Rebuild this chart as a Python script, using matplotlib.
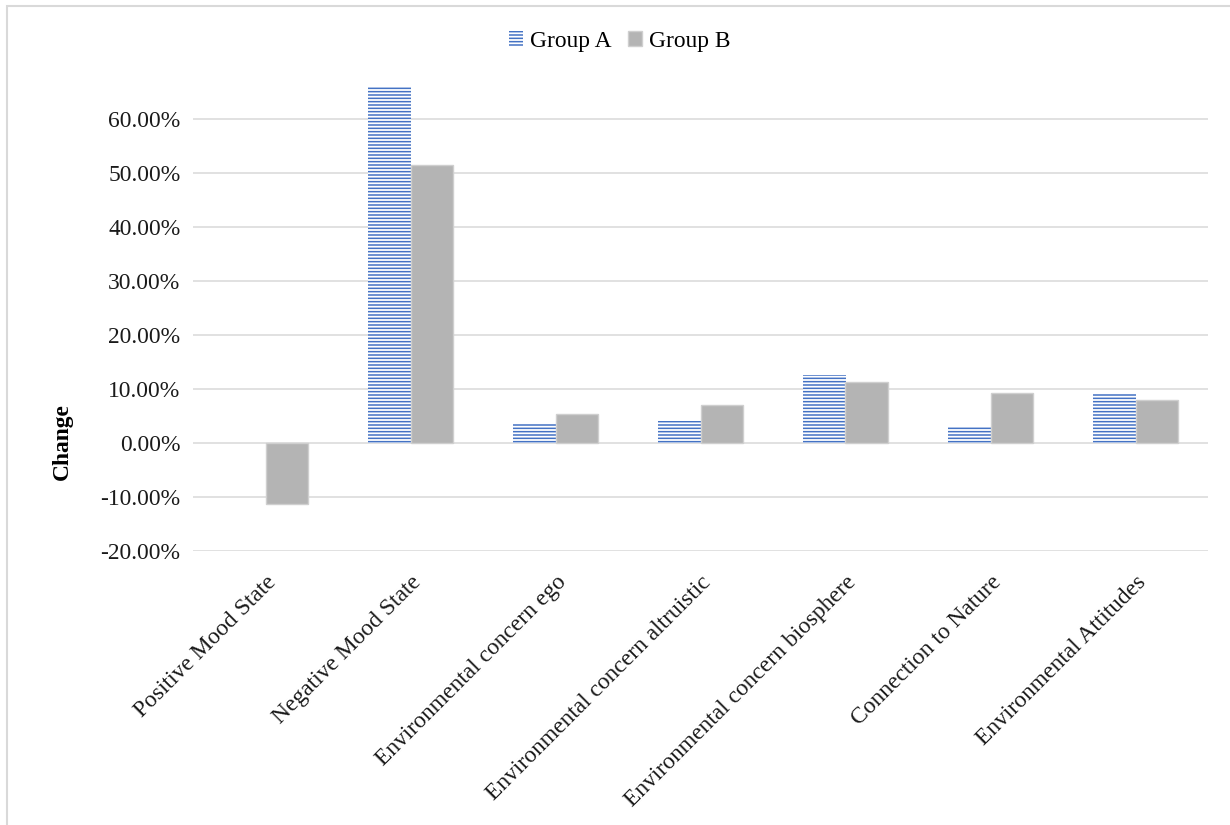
import matplotlib
matplotlib.use("Agg")
import matplotlib.pyplot as plt
from matplotlib.patches import Rectangle
from matplotlib.ticker import PercentFormatter
import numpy as np

# values (fractions)
categories = ["Positive Mood State", "Negative Mood State", "Environmental concern ego",
              "Environmental concern altruistic", "Environmental concern biosphere",
              "Connection to Nature", "Environmental Attitudes"]
group_a = [0.0, 0.658, 0.035, 0.040, 0.125, 0.030, 0.091]
group_b = [-0.113, 0.515, 0.053, 0.070, 0.113, 0.092, 0.080]
y_ticks = [-0.2, -0.1, 0.0, 0.1, 0.2, 0.3, 0.4, 0.5, 0.6]

plt.rcParams['font.family'] = ['Liberation Serif', 'DejaVu Serif']
plt.rcParams['hatch.linewidth'] = 1.1
plt.rcParams['axes.unicode_minus'] = False
fs = 16.9

fig = plt.figure(figsize=(12.3, 8.25), dpi=100)
ax = fig.add_axes([193 / 1230, 1 - 551 / 825, 1015 / 1230, (551 - 64.7) / 825])

x = np.arange(len(categories))
w = 0.29
ax.bar(x - w / 2, group_a, w, facecolor='white', edgecolor='#4472c4', hatch='-----',
       linewidth=0, label='Group A', zorder=3)
ax.bar(x + w / 2, group_b, w, color='#b4b4b4', edgecolor='#cfcfcf', linewidth=1.0,
       label='Group B', zorder=3)

ax.set_xlim(-0.5, len(categories) - 0.5)
ax.set_ylim(-0.2, 0.7)
ax.set_yticks(y_ticks)
ax.yaxis.set_major_formatter(PercentFormatter(1.0, decimals=2))
ax.grid(axis='y', color='#d9d9d9', linewidth=1.1, zorder=0)
ax.set_axisbelow(True)
for s in ax.spines.values():
    s.set_visible(False)
ax.tick_params(axis='y', length=0, pad=9, labelsize=fs, labelcolor='#1a1a1a')
ax.tick_params(axis='x', length=0, pad=15, labelsize=fs, labelcolor='#1a1a1a')
ax.set_xticks(x)
ax.set_xticklabels(categories, rotation=45, ha='right', rotation_mode='anchor')
ax.set_ylabel('Change', fontsize=fs, fontweight='bold')
ax.yaxis.set_label_coords(-0.118, 0.226)

fig.legend(loc='center', bbox_to_anchor=(620 / 1230, 1 - 41 / 825), ncol=2, frameon=False,
           fontsize=fs, handlelength=0.6, handleheight=0.6, handletextpad=0.3,
           columnspacing=0.7)

# light chart border (runs off the right and bottom edges)
fig.add_artist(Rectangle((6.5 / 1230, -0.05), 1.1, 1.05 - 6.5 / 825, transform=fig.transFigure,
                         fill=False, edgecolor='#d9d9d9', linewidth=1.5))

fig.savefig('out.png', dpi=100)
